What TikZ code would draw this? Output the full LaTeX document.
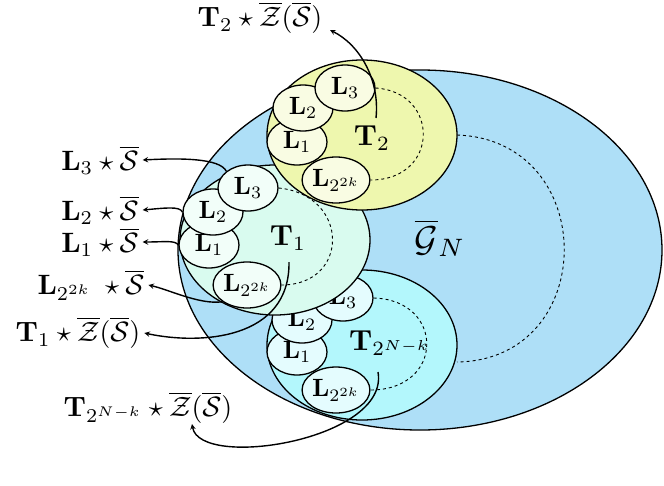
\documentclass[tikz,border=0pt]{standalone}
\usepackage{amsmath,amssymb}
\usetikzlibrary{shapes.geometric}
\newcommand{\lf}[1]{\scalebox{2.5}{$#1$}}
\newcommand{\bg}[1]{\scalebox{2.9}{$#1$}}
\newcommand{\lb}[1]{\scalebox{2.8}{$#1$}}
\begin{document}
\begin{tikzpicture}[x=1pt,y=-1pt,line width=1.3pt,
 leaf/.style={draw,ellipse,minimum width=60,minimum height=46,inner sep=0},
 dsh/.style={dashed,line width=0.9pt},
 arr/.style={->,>=stealth,line width=1.4pt}]
\useasboundingbox (0,0) rectangle (664,485);
\definecolor{gb}{HTML}{AEDFF7}
\definecolor{ty}{HTML}{EEF7AE}
\definecolor{tc}{HTML}{D9FBEF}
\definecolor{tb}{HTML}{B3F7FC}
\draw[fill=gb] (420,250) ellipse [x radius=242,y radius=180];
\node (G) at (440,238) {\scalebox{3.6}{$\overline{\mathcal{G}}_N$}};
\draw[dsh] (457,135) .. controls (600,140) and (600,360) .. (457,362);
% bottom tree
\draw[fill=tb] (362,345) ellipse [x radius=95,y radius=75];
\node[leaf,fill=tb!35] (b1) at (297,352) {\lf{\mathbf{L}_1}};
\node[leaf,fill=tb!35] (b2) at (302,320) {\lf{\mathbf{L}_2}};
\node[leaf,fill=tb!35] (b3) at (343,298) {\lf{\mathbf{L}_3}};
\node[leaf,fill=tb!35] (b4) at (336,390) {\lf{\mathbf{L}_{2^{2k}}}};
\draw[dsh] (b3.east) .. controls (445,300) and (445,390) .. (b4.east);
\node (Tb) at (390,343) {\bg{\mathbf{T}_{2^{N-k}}}};
% T1
\draw[fill=tc] (275,240) ellipse [x radius=95,y radius=75];
\node[leaf,fill=tc!35] (a1) at (209,245) {\lf{\mathbf{L}_1}};
\node[leaf,fill=tc!35] (a2) at (213,212) {\lf{\mathbf{L}_2}};
\node[leaf,fill=tc!35] (a3) at (248,188) {\lf{\mathbf{L}_3}};
\node[leaf,fill=tc!35] (a4) at (247,285) {\lf{\mathbf{L}_{2^{2k}}}};
\draw[dsh] (a3.east) .. controls (350,195) and (350,285) .. (a4.east);
\node (T1) at (288,238) {\bg{\mathbf{T}_1}};
% T2
\draw[fill=ty] (362,135) ellipse [x radius=95,y radius=75];
\node[leaf,fill=ty!35] (c1) at (297,142) {\lf{\mathbf{L}_1}};
\node[leaf,fill=ty!35] (c2) at (303,108) {\lf{\mathbf{L}_2}};
\node[leaf,fill=ty!35] (c3) at (345,88) {\lf{\mathbf{L}_3}};
\node[leaf,fill=ty!35] (c4) at (336,180) {\lf{\mathbf{L}_{2^{2k}}}};
\draw[dsh] (c3.east) .. controls (440,92) and (440,180) .. (c4.east);
\node (T2) at (372,138) {\bg{\mathbf{T}_2}};
% labels
\node (lT2) at (260,18) {\lb{\mathbf{T}_2\star\overline{\mathcal{Z}}(\overline{\mathcal{S}})}};
\node (l3) at (100,160) {\lb{\mathbf{L}_3\star\overline{\mathcal{S}}}};
\node (l2) at (100,210) {\lb{\mathbf{L}_2\star\overline{\mathcal{S}}}};
\node (l1) at (100,242) {\lb{\mathbf{L}_1\star\overline{\mathcal{S}}}};
\node (l4) at (91,285) {\lb{\mathbf{L}_{2^{2k}}\;\star\overline{\mathcal{S}}}};
\node (lT1) at (78,333) {\lb{\mathbf{T}_1\star\overline{\mathcal{Z}}(\overline{\mathcal{S}})}};
\node (lTb) at (148,408) {\lb{\mathbf{T}_{2^{N-k}}\star\overline{\mathcal{Z}}(\overline{\mathcal{S}})}};
\coordinate (sT2) at (376,118);
\coordinate (eT2) at (330,30);
\coordinate (sT1) at (289,262);
\coordinate (sTb) at (378,372);
\coordinate (eTb) at (192,424);
\draw[arr] (sT2) .. controls (380,80) and (360,45) .. (eT2);
\draw[arr] (a3.north west) .. controls (220,158) and (180,158) .. (l3.east);
\draw[arr] (a2.west) .. controls (180,206) and (165,208) .. (l2.east);
\draw[arr] (a1.west) .. controls (175,240) and (165,242) .. (l1.east);
\draw[arr] (a4.south west) .. controls (200,305) and (170,290) .. (l4.east);
\draw[arr] (sT1) .. controls (290,340) and (200,345) .. (lT1.east);
\draw[arr] (sTb) .. controls (390,440) and (200,470) .. (eTb);
\end{tikzpicture}
\end{document}
